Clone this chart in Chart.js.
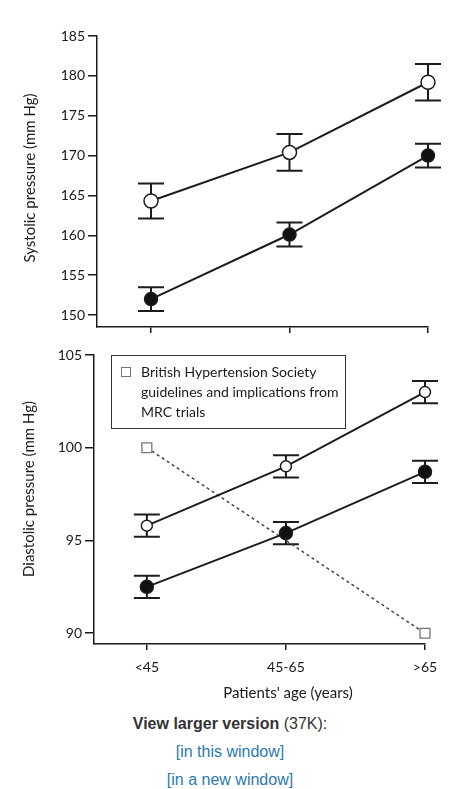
<!DOCTYPE html>
<html>
<head>
<meta charset="utf-8">
<script src="https://cdn.jsdelivr.net/npm/chart.js@4.4.1/dist/chart.umd.min.js"></script>
<style>
html,body{margin:0;padding:0;background:#fff;}
#wrap{position:relative;width:460px;height:789px;overflow:hidden;background:#fff;}
canvas{position:absolute;left:0;}
#c1{top:0;}
#c2{top:340px;}
.ytitle{position:absolute;white-space:nowrap;font-family:Lato,"Open Sans",sans-serif;font-size:15px;color:#1a1a1a;transform:translate(-50%,-50%) rotate(-90deg);}
.xtitle{position:absolute;white-space:nowrap;font-family:Lato,"Open Sans",sans-serif;font-size:15px;color:#1a1a1a;transform:translate(-50%,-50%);}
.legend{position:absolute;left:111px;top:355px;width:235px;height:74px;border:1.5px solid #333;box-sizing:border-box;font-family:Lato,"Open Sans",sans-serif;font-size:14px;color:#1a1a1a;}
.legend .sq{position:absolute;left:9px;top:11px;width:10px;height:10px;border:1px solid #777;box-sizing:border-box;}
.legend .txt{position:absolute;left:29px;top:6px;line-height:20px;white-space:nowrap;}
.foot{position:absolute;left:0;width:460px;text-align:center;font-family:"Liberation Sans",Arial,sans-serif;font-size:16px;line-height:28px;color:#333;}
.foot a{color:#2a7ab0;text-decoration:none;}
</style>
</head>
<body>
<div id="wrap">
  <canvas id="c1" width="460" height="340"></canvas>
  <canvas id="c2" width="460" height="370"></canvas>
  <div class="ytitle" style="left:29px;top:178px;">Systolic pressure (mm Hg)</div>
  <div class="ytitle" style="left:28px;top:489px;">Diastolic pressure (mm Hg)</div>
  <div class="xtitle" style="left:288px;top:692px;">Patients' age (years)</div>
  <div class="legend"><span class="sq"></span><div class="txt">British Hypertension Society<br>guidelines and implications from<br>MRC trials</div></div>
  <div class="foot" style="top:710px;"><b>View larger version</b> (37K):</div>
  <div class="foot" style="top:738px;"><a href="#">[in this window]</a></div>
  <div class="foot" style="top:766px;"><a href="#">[in a new window]</a></div>
</div>
<script>
// ---- data ----
const categories = ['<45', '45-65', '>65'];
const systolicOpen = [164.3, 170.4, 179.2];
const systolicOpenErr = [2.2, 2.3, 2.3];
const systolicFilled = [152.0, 160.1, 170.0];
const systolicFilledErr = [1.5, 1.5, 1.5];
const diastolicOpen = [95.8, 99.0, 103.0];
const diastolicOpenErr = [0.6, 0.6, 0.6];
const diastolicFilled = [92.5, 95.4, 98.7];
const diastolicFilledErr = [0.6, 0.6, 0.6];
const bhsGuideline = [100, null, 90];
const systolicTicks = [150, 155, 160, 165, 170, 175, 180, 185];
const diastolicTicks = [90, 95, 100, 105];

const INK = '#1c1c1c';
const FONT = {family: 'Lato, "Open Sans", sans-serif', size: 14};

function toPts(arr) {
  const out = [];
  arr.forEach((v, i) => { if (v !== null) out.push({x: i, y: v}); });
  return out;
}

const errorBars = {
  id: 'errorBars',
  beforeDatasetsDraw(chart) {
    const ctx = chart.ctx;
    const ys = chart.scales.y;
    chart.data.datasets.forEach((ds, i) => {
      if (!ds.errors) return;
      const meta = chart.getDatasetMeta(i);
      ctx.save();
      ctx.strokeStyle = INK;
      ctx.lineWidth = 2;
      meta.data.forEach((pt, j) => {
        const v = ds.data[j].y, e = ds.errors[j];
        const yt = ys.getPixelForValue(v + e);
        const yb = ys.getPixelForValue(v - e);
        const x = pt.x, w = ds.capHalf;
        ctx.beginPath();
        ctx.moveTo(x, yt); ctx.lineTo(x, yb);
        ctx.moveTo(x - w, yt); ctx.lineTo(x + w, yt);
        ctx.moveTo(x - w, yb); ctx.lineTo(x + w, yb);
        ctx.stroke();
      });
      ctx.restore();
    });
  }
};

function axisX(min, showLabels, height) {
  return {
    type: 'linear', min: min, max: 2,
    afterBuildTicks: s => { s.ticks = categories.map((c, i) => ({value: i})); },
    afterFit: s => { s.height = height; },
    ticks: {display: showLabels, color: '#1a1a1a', font: FONT, padding: 9,
            callback: v => categories[v]},
    grid: {drawOnChartArea: false, drawTicks: true, tickLength: 6, color: INK, lineWidth: 1.5},
    border: {display: true, color: INK, width: 1.5}
  };
}
function axisY(min, max, tickVals, width, tl) {
  return {
    min: min, max: max,
    afterBuildTicks: s => { s.ticks = tickVals.map(v => ({value: v})); },
    afterFit: s => { s.width = width; },
    ticks: {color: '#1a1a1a', font: FONT, padding: 3},
    grid: {drawOnChartArea: false, drawTicks: true, tickLength: tl, color: INK, lineWidth: 1.5},
    border: {display: true, color: INK, width: 1.5}
  };
}
function seriesDS(vals, errs, filled, r, cap) {
  return {
    data: toPts(vals), errors: errs, capHalf: cap, clip: false,
    borderColor: INK, borderWidth: 2,
    pointRadius: r, pointBorderWidth: 1.5,
    pointBackgroundColor: filled ? '#111' : '#fff', pointBorderColor: INK
  };
}
const baseOpts = {
  responsive: false, animation: false,
  plugins: {legend: {display: false}, tooltip: {enabled: false}}
};

new Chart(document.getElementById('c1'), {
  type: 'line',
  data: {datasets: [
    seriesDS(systolicOpen, systolicOpenErr, false, 7, 13),
    seriesDS(systolicFilled, systolicFilledErr, true, 6.5, 13)
  ]},
  options: Object.assign({}, baseOpts, {
    layout: {padding: {top: 36, right: 32, left: 0, bottom: 0}},
    scales: {
      x: axisX(-0.39, false, 13),
      y: axisY(148.5, 185, systolicTicks, 97, 9)
    }
  }),
  plugins: [errorBars]
});

new Chart(document.getElementById('c2'), {
  type: 'line',
  data: {datasets: [
    seriesDS(diastolicOpen, diastolicOpenErr, false, 5.5, 13),
    seriesDS(diastolicFilled, diastolicFilledErr, true, 6.5, 13),
    {
      data: toPts(bhsGuideline), clip: false,
      borderColor: '#444', borderWidth: 1.5, borderDash: [3, 3],
      pointStyle: 'rect', pointRadius: 7, pointBorderWidth: 1.3,
      pointBackgroundColor: '#fff', pointBorderColor: '#777'
    }
  ]},
  options: Object.assign({}, baseOpts, {
    layout: {padding: {top: 15, right: 35, left: 0, bottom: 0}},
    scales: {
      x: axisX(-0.38, true, 66),
      y: axisY(89.42, 105, diastolicTicks, 94, 9)
    }
  }),
  plugins: [errorBars]
});
</script>
</body>
</html>
